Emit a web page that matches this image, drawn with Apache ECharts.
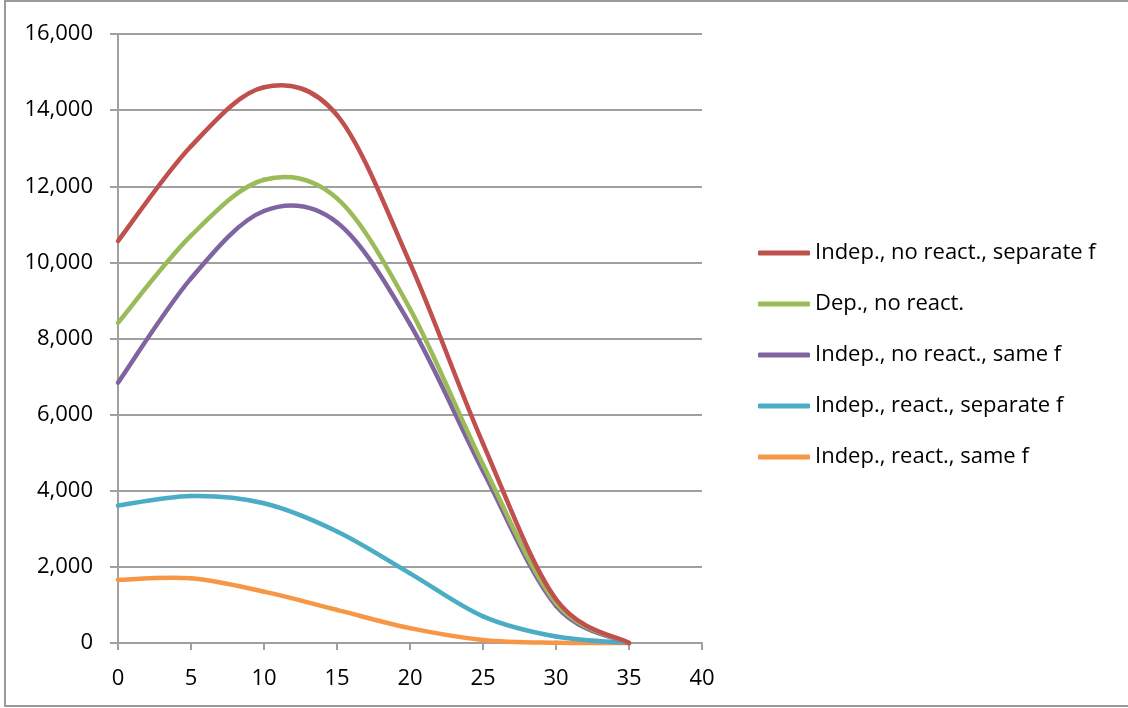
<!DOCTYPE html>
<html>
<head>
<meta charset="utf-8">
<script src="https://cdn.jsdelivr.net/npm/echarts@6/dist/echarts.min.js"></script>
<style>
html,body{margin:0;padding:0;background:#fff;}
#chart{width:1128px;height:708px;}
</style>
</head>
<body>
<div id="chart"></div>
<script>
var xValues = [0, 5, 10, 15, 20, 25, 30, 35];
var seriesNames = [
  'Indep., no react., separate f',
  'Dep., no react.',
  'Indep., no react., same f',
  'Indep., react., separate f',
  'Indep., react., same f'
];
var indepNoReactSeparate = [10560, 13050, 14600, 13870, 9980, 5240, 1150, 0];
var depNoReact = [8410, 10700, 12170, 11680, 8780, 4690, 1050, 0];
var indepNoReactSame = [6840, 9580, 11350, 11050, 8380, 4520, 980, 0];
var indepReactSeparate = [3610, 3860, 3670, 2930, 1830, 700, 170, 0];
var indepReactSame = [1660, 1700, 1350, 870, 390, 80, 5, 0];
var yTicks = [0, 2000, 4000, 6000, 8000, 10000, 12000, 14000, 16000];
var xTicks = [0, 5, 10, 15, 20, 25, 30, 35, 40];

var colors = ['#C0504D', '#9BBB59', '#8064A2', '#4BACC6', '#F79646'];
var allValues = [indepNoReactSeparate, depNoReact, indepNoReactSame, indepReactSeparate, indepReactSame];

var FONT = 'Open Sans';
var chart = echarts.init(document.getElementById('chart'), null, {renderer: 'canvas'});

function makeRenderItem(vals, color) {
  var n = vals.length;
  return function (params, api) {
    var i = params.dataIndex;
    if (i >= n - 1) return null;
    function p(j) {
      j = Math.max(0, Math.min(n - 1, j));
      return api.coord([xValues[j], vals[j]]);
    }
    var p0 = p(i - 1), p1 = p(i), p2 = p(i + 1), p3 = p(i + 2);
    var k = 1 / 6;
    return {
      type: 'bezierCurve',
      shape: {
        x1: p1[0], y1: p1[1], x2: p2[0], y2: p2[1],
        cpx1: p1[0] + (p2[0] - p0[0]) * k, cpy1: p1[1] + (p2[1] - p0[1]) * k,
        cpx2: p2[0] - (p3[0] - p1[0]) * k, cpy2: p2[1] - (p3[1] - p1[1]) * k
      },
      style: {stroke: color, lineWidth: 4.5, fill: null, lineCap: 'round'},
      silent: true
    };
  };
}

var series = allValues.map(function (vals, i) {
  return {
    name: seriesNames[i],
    type: 'custom',
    data: xValues.map(function (x, j) { return [x, vals[j]]; }),
    encode: {x: 0, y: 1},
    renderItem: makeRenderItem(vals, colors[i]),
    itemStyle: {color: colors[i]},
    clip: false,
    z: 10 - i
  };
});

chart.setOption({
  animation: false,
  backgroundColor: '#fff',
  color: colors,
  graphic: [{
    type: 'rect',
    shape: {x: 5, y: 1, width: 1130, height: 705},
    style: {fill: 'none', stroke: '#9a9a9a', lineWidth: 2},
    silent: true
  }],
  grid: {left: 118, right: 426, top: 34, bottom: 65, containLabel: false},
  legend: {
    orient: 'vertical',
    left: 758,
    top: 240,
    padding: 0,
    icon: 'roundRect',
    itemWidth: 52,
    itemHeight: 5,
    itemGap: 25,
    data: seriesNames,
    textStyle: {fontFamily: FONT, fontSize: 22, color: '#000', lineHeight: 26}
  },
  xAxis: {
    type: 'value',
    min: xTicks[0],
    max: xTicks[xTicks.length - 1],
    interval: 5,
    axisLine: {show: true, lineStyle: {color: '#a0a0a0', width: 2}},
    axisTick: {show: true, length: 7, lineStyle: {color: '#a0a0a0', width: 2}},
    axisLabel: {fontFamily: FONT, fontSize: 22, color: '#000', margin: 25},
    splitLine: {show: false}
  },
  yAxis: {
    type: 'value',
    min: yTicks[0],
    max: yTicks[yTicks.length - 1],
    interval: 2000,
    axisLine: {show: true, lineStyle: {color: '#a0a0a0', width: 2}},
    axisTick: {show: true, length: 8, lineStyle: {color: '#a0a0a0', width: 2}},
    axisLabel: {
      fontFamily: FONT, fontSize: 22, color: '#000', margin: 25,
      formatter: function (v) { return v.toLocaleString('en-US'); }
    },
    splitLine: {show: true, lineStyle: {color: '#a0a0a0', width: 2}}
  },
  series: series
});
</script>
</body>
</html>
